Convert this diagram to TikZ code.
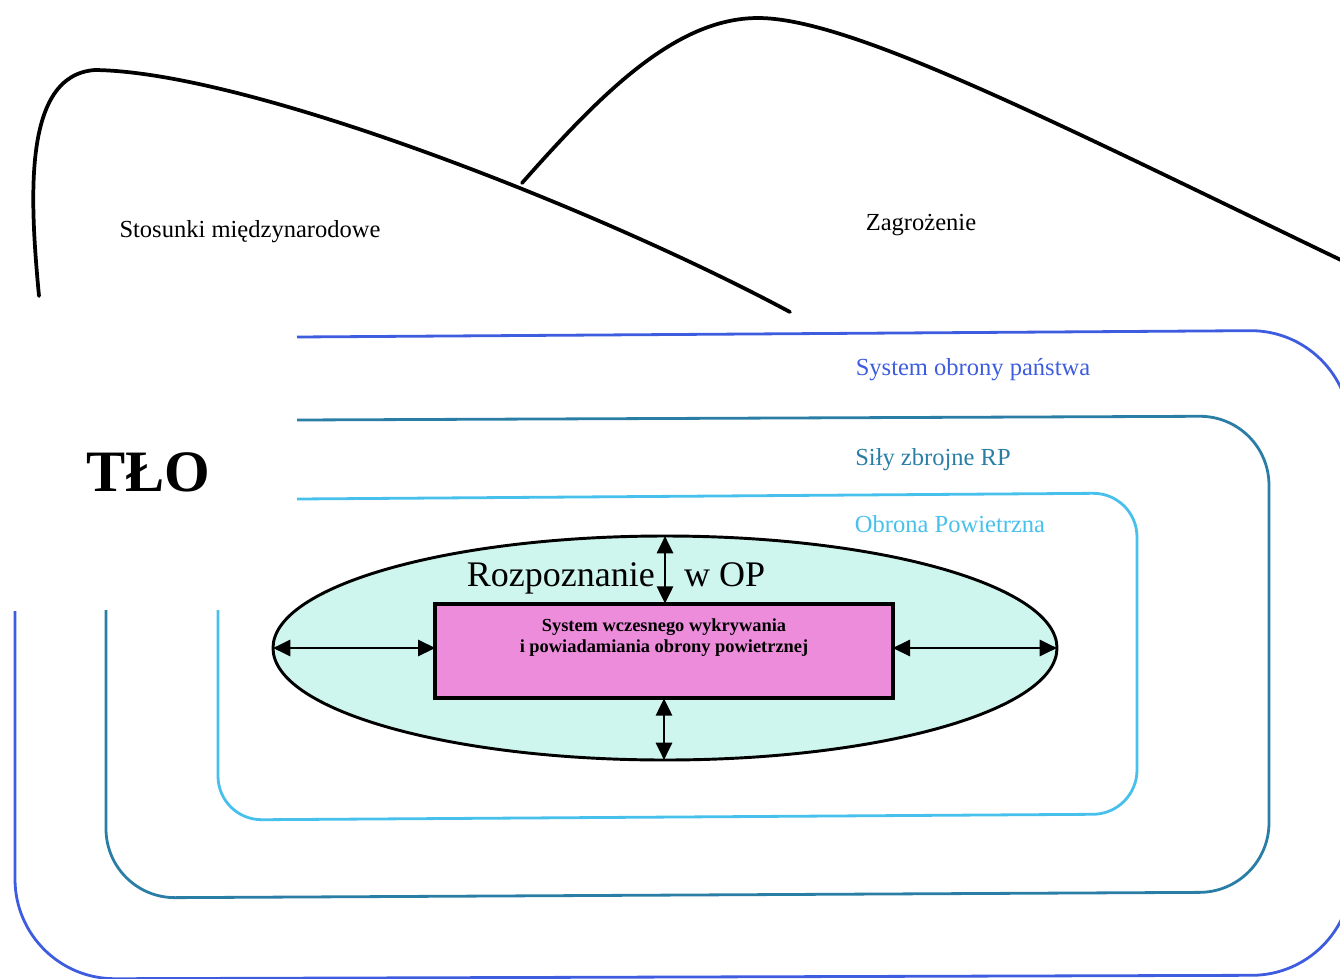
\documentclass[tikz,border=0pt]{standalone}
\usepackage{fontspec}
\setmainfont{Liberation Serif}
\usetikzlibrary{arrows.meta,shapes.geometric,positioning}

\definecolor{panstwo}{RGB}{62,92,222}
\definecolor{sily}{RGB}{42,126,166}
\definecolor{obrona}{RGB}{72,192,236}
\definecolor{elipsa}{RGB}{206,246,238}
\definecolor{skrzynka}{RGB}{236,140,218}

\tikzset{
  tlo/.style={line width=2.8pt, line cap=round},
  rama/.style={line width=2.1pt, rounded corners=#1},
  dwustr/.style={{Triangle[length=13pt,width=12pt]}-{Triangle[length=13pt,width=12pt]}, line width=2.2pt},
  etykieta/.style={font=\fontsize{18.4}{20}\selectfont},
}

\begin{document}
\begin{tikzpicture}[x=0.75pt,y=0.75pt,yscale=-1,xscale=1]
\useasboundingbox (0,0) rectangle (1340,979);

%Curve: Stosunki
\draw [tlo] (39,296) .. controls (30,200) and (22,75) .. (95,70) .. controls (250,72) and (600,210) .. (790,312) ;
%Curve: Zagrozenie
\draw [tlo] (522,183) .. controls (600,95) and (675,18) .. (758,18) .. controls (850,18) and (1050,120) .. (1345,262) ;

%Frame: System obrony panstwa
\draw [rama=75pt, panstwo] (297,337) -- (1350,330) -- (1352,975) -- (15,979) -- (15,611) ;
%Frame: Sily zbrojne
\draw [rama=52pt, sily] (297,420) -- (1269,416) -- (1269,892) -- (106,898) -- (106,610) ;
%Frame: Obrona Powietrzna
\draw [rama=33pt, obrona] (297,499) -- (1137,493) -- (1137,814) -- (218,820) -- (218,610) ;

%Shape: Ellipse
\node (op) [ellipse, draw, line width=2.2pt, fill=elipsa, minimum width=588pt, minimum height=168pt, inner sep=0, outer sep=0] at (665,648) {};
%Shape: Rectangle
\node (sww) [draw, line width=3pt, fill=skrzynka, minimum width=343pt, minimum height=71pt, inner sep=0, outer sep=0] at (664,651) {};
% Text Node
\node (swwtekst) [below=8pt of sww.north, align=center, font=\bfseries\fontsize{13.8}{15.8}\selectfont] {System wczesnego wykrywania\\i powiadamiania obrony powietrznej};
% Text Node
\node (rozp) at (616,578) [font=\fontsize{27}{30}\selectfont] {Rozpoznanie\hspace{22pt}w OP};

%Arrows
\draw [dwustr] (op.north) -- (op.north |- sww.north) ;
\draw [dwustr] (sww.south) -- (sww.south |- op.south) ;
\draw [dwustr] (op.west) -- (op.west -| sww.west) ;
\draw [dwustr] (op.east -| sww.east) -- (op.east) ;

% Text Node
\node (stosunki) at (250,232) [etykieta] {Stosunki międzynarodowe};
% Text Node
\node (zagrozenie) at (921,225) [etykieta] {Zagrożenie};
% Text Node
\node (tlonap) at (148,472) [font=\bfseries\fontsize{44}{46}\selectfont] {TŁO};
% Text Node
\node (panstwonap) at (973,370) [etykieta, text=panstwo] {System obrony państwa};
% Text Node
\node (silynap) at (933,460) [etykieta, text=sily] {Siły zbrojne RP};
% Text Node
\node (obronanap) at (950,524) [etykieta, text=obrona] {Obrona Powietrzna};

\end{tikzpicture}
\end{document}
